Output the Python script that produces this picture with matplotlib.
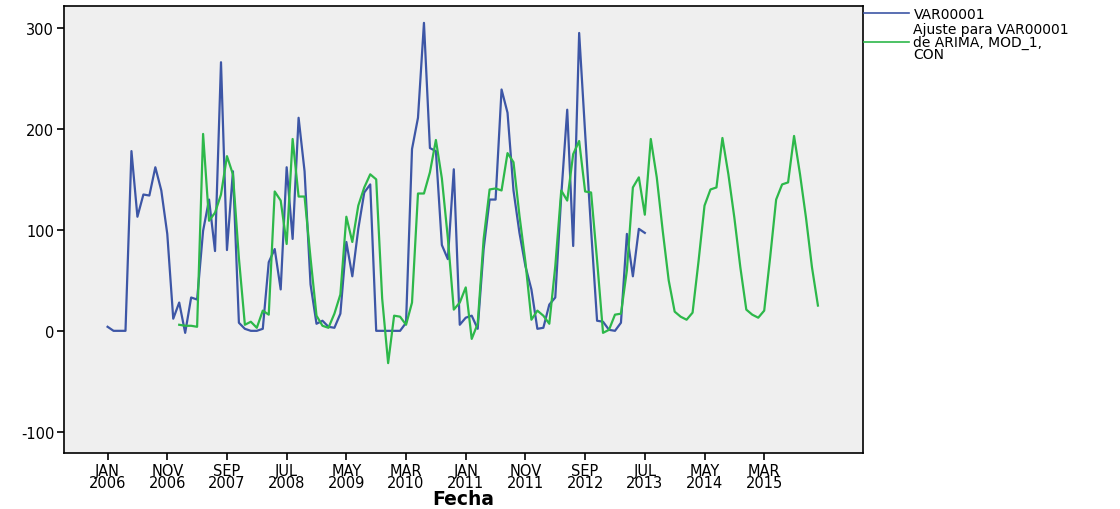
import matplotlib
matplotlib.use("Agg")
import matplotlib.pyplot as plt
import numpy as np

plt.rcParams['font.family'] = ['DejaVu Sans']

# Monthly index: 0 = JAN 2006
blue_start = 0
var00001 = [4, 0, 0, 0, 178, 113, 135, 134, 162, 139, 96, 12,
            28, -2, 33, 31, 99, 130, 79, 266, 80, 158, 8, 2,
            0, 0, 2, 68, 81, 41, 162, 91, 211, 158, 46, 7,
            10, 4, 3, 17, 88, 54, 101, 137, 145, 0, 0, 0,
            0, 0, 8, 180, 211, 305, 181, 178, 85, 71, 160, 6,
            13, 15, 2, 81, 130, 130, 239, 216, 139, 97, 64, 41,
            2, 3, 26, 33, 134, 219, 84, 295, 196, 100, 10, 9,
            1, 0, 8, 96, 54, 101, 97]

fit_start = 12
arima_fit = [6, 5, 5, 4, 195, 109, 117, 135, 173, 155, 72, 6,
             9, 3, 20, 16, 138, 129, 86, 190, 133, 133, 72, 15,
             5, 3, 17, 36, 113, 88, 124, 142, 155, 150, 32, -32,
             15, 14, 6, 28, 136, 136, 157, 189, 151, 92, 21, 28,
             43, -8, 7, 91, 140, 141, 139, 176, 167, 114, 68, 11,
             20, 15, 7, 64, 139, 129, 175, 188, 138, 137, 70, -2,
             1, 16, 17, 60, 142, 152, 115, 190, 152, 99, 50, 19,
             14, 11, 18, 69, 124, 140, 142, 191, 155, 112, 63, 21,
             16, 13, 20, 73, 130, 145, 147, 193, 155, 112, 63, 25]

tick_pos = list(range(0, 120, 10))
tick_labels = ["JAN\n2006", "NOV\n2006", "SEP\n2007", "JUL\n2008", "MAY\n2009",
               "MAR\n2010", "JAN\n2011", "NOV\n2011", "SEP\n2012", "JUL\n2013",
               "MAY\n2014", "MAR\n2015"]
y_ticks = [-100, 0, 100, 200, 300]

fig = plt.figure(figsize=(11.2, 5.1), dpi=100)
ax_h = (454 - 6.7) / 510
ax = fig.add_axes([64/1120, 1-454/510, (862.7-64)/1120, ax_h])
ax.set_facecolor('#EFEFEF')

xb = np.arange(blue_start, blue_start + len(var00001))
xg = np.arange(fit_start, fit_start + len(arima_fit))
ax.plot(xb, var00001, color='#3D56A6', lw=1.6, label='VAR00001')
ax.plot(xg, arima_fit, color='#2DB84A', lw=1.6,
        label='Ajuste para VAR00001\nde ARIMA, MOD_1,\nCON')

ax.set_xlim(-7.3, 126.5)
ax.set_ylim(-121, 322)
ax.set_xticks(tick_pos)
ax.set_xticklabels(tick_labels, fontsize=10.5, linespacing=0.75)
ax.set_yticks(y_ticks)
ax.set_yticklabels([str(v) for v in y_ticks], fontsize=10.5)
ax.tick_params(axis='both', direction='out', length=5, width=1.2, color='black')
ax.tick_params(axis='x', pad=2)
ax.tick_params(axis='y', pad=2)
for s in ax.spines.values():
    s.set_linewidth(1.2)
    s.set_color('black')

ax.set_xlabel('Fecha', fontsize=13.5, fontweight='bold')
ax.xaxis.set_label_coords(0.5, -(500 - 454) / 510 / ax_h)
ax.xaxis.label.set_va('center')

leg = ax.legend(loc='upper left', bbox_to_anchor=(1.0, 1.0), frameon=False,
                fontsize=10, handlelength=3.2, handletextpad=0.35,
                borderaxespad=0.0, borderpad=0.1, labelspacing=0.1)
for line in leg.get_lines():
    line.set_linewidth(1.2)
for t in leg.get_texts():
    t.set_linespacing(0.82)

fig.savefig('out.png', dpi=100, facecolor='white')
